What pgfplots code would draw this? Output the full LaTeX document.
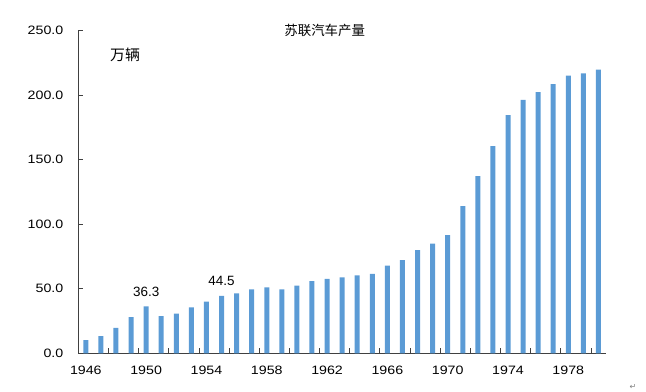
\documentclass[border=0pt]{standalone}
\usepackage{pgfplots}
\pgfplotsset{compat=1.18}
\usepackage{fontspec}
\setmainfont{Liberation Sans}
\newfontfamily\tickfont[FakeStretch=1.17]{Liberation Sans}
\newfontfamily\cjk{Noto Sans CJK SC}
\newfontfamily\dejavu{DejaVu Sans}
\definecolor{barblue}{HTML}{5B9BD5}
\definecolor{axgray}{HTML}{404040}
\begin{document}
\begin{tikzpicture}
\useasboundingbox (-78.3bp,-38.7bp) rectangle (567.7bp,353.3bp);
\begin{axis}[
  at={(0,0)}, anchor=origin,
  scale only axis,
  width=527.7bp, height=322.6bp,
  xmin=1945.5, xmax=1980.5,
  ymin=0, ymax=250,
  axis x line*=bottom, axis y line*=left,
  axis line style={axgray, line width=0.8bp},
  every tick/.style={axgray, line width=0.8bp},
  major tick length=5bp,
  tick align=inside,
  ytick={0,50,...,250},
  xtick={1947.5,1949.5,...,1979.5},
  xticklabels={},
  extra x ticks={1946,1950,...,1978},
  extra x tick style={major tick length=0pt},
  extra x tick labels={1946,1950,1954,1958,1962,1966,1970,1974,1978},
  /pgf/number format/assume math mode=true,
  tick label style={font=\tickfont\fontsize{12.2}{14}\selectfont, text=black},
  yticklabel style={/pgf/number format/fixed, /pgf/number format/fixed zerofill, /pgf/number format/precision=1, xshift=-11.5bp},
  xticklabel style={yshift=-9.5bp},
  clip=false,
]
\addplot[ybar, bar width=5bp, fill=barblue, draw=none] coordinates {
(1946,10.3) (1947,13.4) (1948,19.8) (1949,28.1) (1950,36.3)
(1951,28.9) (1952,30.7) (1953,35.6) (1954,40.0) (1955,44.5)
(1956,46.5) (1957,49.6) (1958,51.1) (1959,49.6) (1960,52.4)
(1961,56.0) (1962,57.6) (1963,58.9) (1964,60.4) (1965,61.6)
(1966,67.9) (1967,72.3) (1968,80.0) (1969,84.9) (1970,91.6)
(1971,114.1) (1972,137.3) (1973,160.6) (1974,184.6) (1975,196.4)
(1976,202.4) (1977,208.6) (1978,215.2) (1979,217.0) (1980,219.9)
};
\addplot[only marks, mark=none, point meta=y,
  nodes near coords,
  every node near coord/.append style={font=\fontsize{13.5}{15}\selectfont, anchor=base, inner sep=0pt, yshift=10bp,
    /pgf/number format/fixed, /pgf/number format/fixed zerofill, /pgf/number format/precision=1, /pgf/number format/assume math mode=true}]
  coordinates {(1950,36.3) (1955,44.5)};
\node[font=\cjk\fontsize{13.5}{15}\selectfont, anchor=center] at (rel axis cs:0.467,1.0) {苏联汽车产量};
\node[font=\cjk\fontsize{15}{17}\selectfont, anchor=center] at (rel axis cs:0.0885,0.924) {万辆};
\end{axis}
\node[font=\dejavu\fontsize{8}{9}\selectfont, text=gray] at (554.7bp,-33.5bp) {↵};
\end{tikzpicture}
\end{document}
